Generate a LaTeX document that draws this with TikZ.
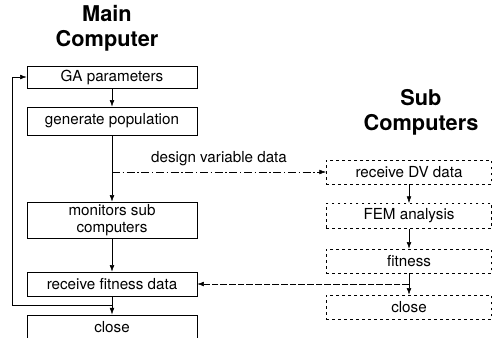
\documentclass[tikz,border=0pt]{standalone}
\usepackage{fontspec}
\setmainfont{TeX Gyre Heros}
\usetikzlibrary{arrows.meta,calc}

\begin{document}
\begin{tikzpicture}[
    % GLOBAL CFG
    x=0.75pt, y=-0.75pt,
    font=\fontsize{11.4}{13}\selectfont,
    >={Latex[length=5pt,width=3.5pt]},
    % Styles
    mainbox/.style={% For the main computer steps
        rectangle,
        draw,
        thin,
        minimum width=127.5pt,
        inner sep=1pt,
        },
    subbox/.style={% For the sub computer steps
        rectangle,
        draw,
        thin,
        dash pattern=on 2pt off 2.5pt,
        minimum width=124pt,
        inner sep=1pt,
        },
    title/.style={% Column headings
        font=\fontsize{16.3}{18.8}\selectfont\bfseries,
        align=center,
        },
    ArrowC1/.style={% Arrows with sharp corners
        thin,
        },
    ]

    \clip (0,0) rectangle (497,337);

    % Headings
    \node [title] (tmain) at (107,28) {Main\\Computer};
    \node [title] (tsub) at (421,112) {Sub\\Computers};

    % Main computer boxes
    \node [mainbox, minimum height=16.5pt] (ga) at (112,77) {GA parameters};
    \node [mainbox, minimum height=21pt] (gen) at (112,121) {generate population};
    \node [mainbox, minimum height=27pt, align=center] (mon) at (112,220) {monitors sub\\computers};
    \node [mainbox, minimum height=18pt] (rfd) at (112,284) {receive fitness data};
    \node [mainbox, minimum height=19pt] (cls) at (112,327.5) {close};

    % Sub computer boxes
    \node [subbox, minimum height=18pt] (sdv) at (409,172) {receive DV data};
    \node [subbox, minimum height=19pt] (fem) at (409,216) {FEM analysis};
    \node [subbox, minimum height=18pt] (fit) at (409,261) {fitness};
    \node [subbox, minimum height=18pt] (scl) at (409,307) {close};

    % Main flow
    \draw [->, ArrowC1] (ga) -- (gen);
    \draw [->, ArrowC1] (gen) -- (mon);
    \draw [->, ArrowC1] (mon) -- (rfd);
    \draw [->, ArrowC1] (rfd) -- (cls);
    \coordinate (loop) at ($(rfd.south)+(0,9)$);
    \draw [->, ArrowC1] (loop) -| ($(ga.west)+(-14,0)$) -- (ga.west);

    % Sending data
    \coordinate (split) at (gen.south |- sdv.west);
    \draw [->, ArrowC1, dash pattern=on 6pt off 2pt on 1pt off 2pt] (split) -- (sdv.west)
        node[pos=0.5, above=1pt] {design variable data};

    % Sub flow
    \draw [->, ArrowC1] (sdv) -- (fem);
    \draw [->, ArrowC1] (fem) -- (fit);
    \draw [->, ArrowC1] (fit) -- (scl);
    \coordinate (back) at (fit.south |- rfd.east);
    \draw [->, ArrowC1, dash pattern=on 5pt off 1.5pt] (back) -- (rfd.east);

\end{tikzpicture}
\end{document}
